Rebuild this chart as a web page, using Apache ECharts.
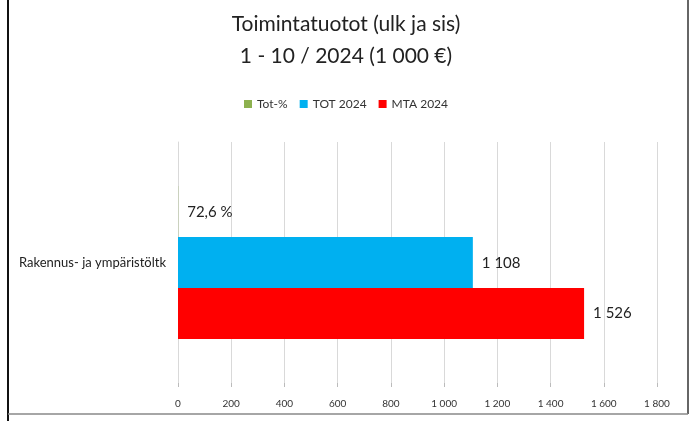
<!DOCTYPE html>
<html>
<head>
<meta charset="utf-8">
<script src="https://cdn.jsdelivr.net/npm/echarts@6/dist/echarts.min.js"></script>
<style>
  html, body { margin: 0; padding: 0; background: #fff; }
  #chart { width: 692px; height: 421px; }
</style>
</head>
<body>
<div id="chart"></div>
<script>
// 数据
const categories = ['Rakennus- ja ympäristöltk'];
const totPct = [0.726];
const tot2024 = [1108];
const mta2024 = [1526];
const xTicks = [0, 200, 400, 600, 800, 1000, 1200, 1400, 1600, 1800];

const FONT = 'Lato';

// 千位空格格式
function fmt(v) {
    return String(Math.round(v)).replace(/\B(?=(\d{3})+(?!\d))/g, ' ');
}

const chart = echarts.init(document.getElementById('chart'));

const labelStyle = { show: true, position: 'right', distance: 9, color: '#222', fontFamily: FONT, fontSize: 15 };

const option = {
    animation: false,
    title: {
        text: 'Toimintatuotot (ulk ja sis)\n1 - 10 / 2024 (1 000 €)',
        left: 'center',
        top: 3,
        textStyle: { fontFamily: FONT, fontSize: 21, fontWeight: 'normal', color: '#222', lineHeight: 32 }
    },
    legend: {
        top: 93,
        left: 'center',
        itemWidth: 8,
        itemHeight: 8,
        itemGap: 12,
        icon: 'rect',
        textStyle: { fontFamily: FONT, fontSize: 12, color: '#333' },
        data: ['Tot-%', 'TOT 2024', 'MTA 2024']
    },
    grid: { left: 178, right: 35, top: 142, bottom: 38 },
    xAxis: {
        type: 'value',
        min: xTicks[0],
        max: xTicks[xTicks.length - 1],
        interval: 200,
        axisLine: { show: false },
        axisTick: { show: true, length: 4, lineStyle: { color: '#bbb' } },
        splitLine: { show: true, lineStyle: { color: '#d9d9d9' } },
        axisLabel: { fontFamily: FONT, fontSize: 10, color: '#333', margin: 16, formatter: fmt }
    },
    yAxis: {
        type: 'category',
        data: categories,
        inverse: true,
        axisLine: { show: true, lineStyle: { color: '#d9d9d9' } },
        axisTick: { show: false },
        axisLabel: { fontFamily: FONT, fontSize: 13, color: '#222', margin: 12 }
    },
    series: [
        {
            name: 'Tot-%', type: 'bar', data: totPct, barWidth: 51, barGap: '0%',
            itemStyle: { color: '#8db14f' },
            label: Object.assign({}, labelStyle, { offset: [0, 1], formatter: p => String(Math.round(p.value * 1000) / 10).replace('.', ',') + ' %' })
        },
        {
            name: 'TOT 2024', type: 'bar', data: tot2024, barWidth: 51, barGap: '0%',
            itemStyle: { color: '#00b0f0' },
            label: Object.assign({}, labelStyle, { offset: [0, 1], formatter: p => fmt(p.value) })
        },
        {
            name: 'MTA 2024', type: 'bar', data: mta2024, barWidth: 51, barGap: '0%',
            itemStyle: { color: '#ff0000' },
            label: Object.assign({}, labelStyle, { offset: [0, 0], formatter: p => fmt(p.value) })
        }
    ],
    graphic: [
        { type: 'line', shape: { x1: 8, y1: 0, x2: 8, y2: 421 }, style: { stroke: '#111', lineWidth: 2 } },
        { type: 'line', shape: { x1: 688, y1: 0, x2: 688, y2: 414 }, style: { stroke: '#333', lineWidth: 1.5 } },
        { type: 'line', shape: { x1: 8, y1: 414, x2: 688, y2: 414 }, style: { stroke: '#888', lineWidth: 1.5 } }
    ]
};

chart.setOption(option);
</script>
</body>
</html>
